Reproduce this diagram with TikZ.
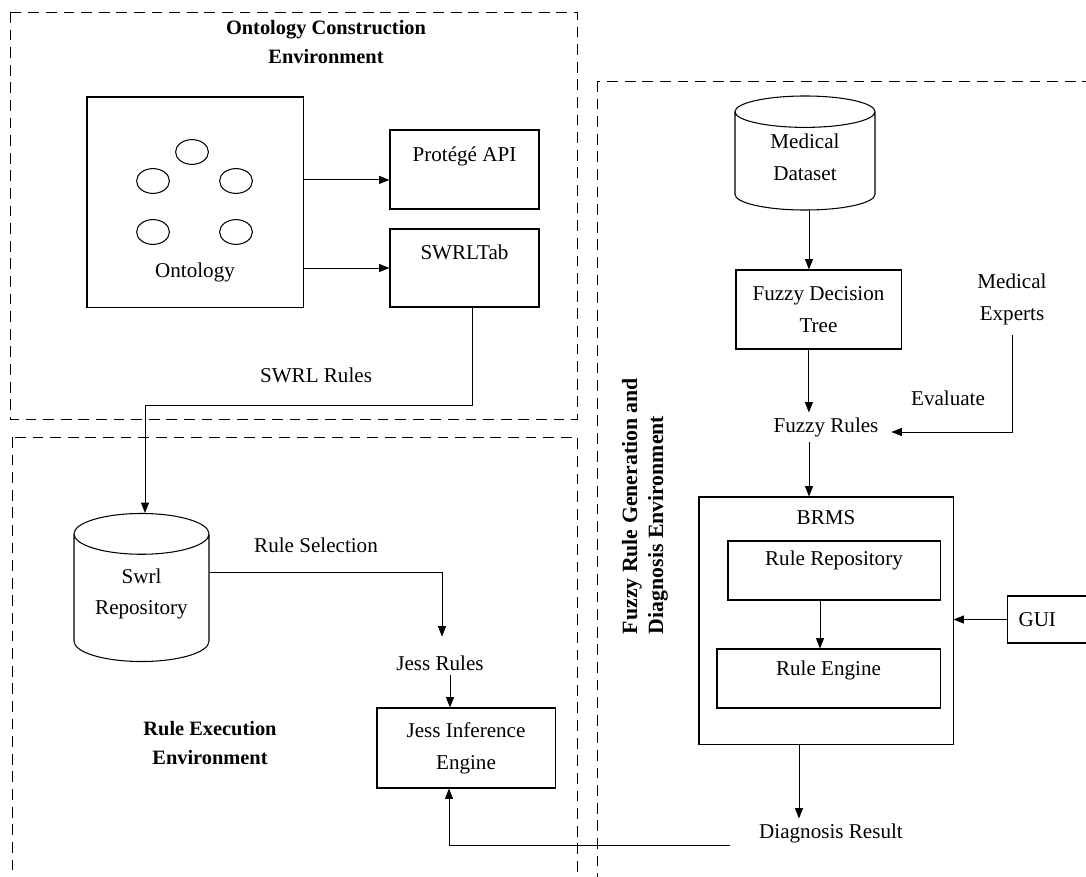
\documentclass[tikz,border=0pt]{standalone}
\usepackage{fontspec}
\setmainfont{Liberation Serif}
\usetikzlibrary{shapes,arrows,positioning,calc,arrows.meta}

\begin{document}
\begin{tikzpicture}[
    x=0.025cm, y=-0.025cm,
    font=\fontsize{15}{22.7}\selectfont,
    box/.style={rectangle, draw, line width=0.75pt, align=center},
    store/.style={cylinder, shape border rotate=90, draw, line width=0.75pt, aspect=0.4, align=center, anchor=shape center},
    concept/.style={ellipse, draw, line width=0.75pt, minimum width=0.82cm, minimum height=0.62cm},
    envbox/.style={draw, line width=0.7pt, dash pattern=on 0.27cm off 0.17cm},
    envtitle/.style={font=\fontsize{14.5}{20}\bfseries\selectfont, align=center},
    flow/.style={-{Triangle[length=0.26cm,width=0.2cm]}, line width=0.7pt}
]
    \useasboundingbox (0,0) rectangle (1086,876);
    \clip (0,0) rectangle (1086,876);

    % environments
    \draw[envbox] (10,12) rectangle (577,419);
    \draw[envbox] (12,437) rectangle (577,900);
    \draw[envbox] (597,81) rectangle (1100,900);
    \node[envtitle] (octitle) at (326,42) {Ontology Construction\\Environment};
    \node[envtitle] (retitle) at (210,743) {Rule Execution\\Environment};
    \node[envtitle, rotate=90, align=left, font=\fontsize{15.5}{18.5}\bfseries\selectfont] (frtitle) at (645,506) {Fuzzy Rule Generation and\\Diagnosis Environment};

    % ontology construction
    \node[box, minimum width=5.4cm, minimum height=5.25cm, text height=3.87cm] (onto) at (195,202) {Ontology};
    \foreach \cx/\cy [count=\i] in {192/152, 153/181, 236/181, 153/232, 236/232}
        \node[concept] (c\i) at (\cx,\cy) {};
    \node[box, minimum width=3.725cm, minimum height=1.975cm, text depth=0.78cm] (api) at (464.5,169.5) {Protégé API};
    \node[box, minimum width=3.725cm, minimum height=1.95cm, text depth=0.8cm] (tab) at (464.5,268) {SWRLTab};
    \draw[flow] ([yshift=-0.26cm]api.west -| onto.east) -- ([yshift=-0.26cm]api.west);
    \draw[flow] (onto.east |- tab.west) -- (tab.west);

    % rule execution
    \node[store, minimum width=3.375cm, minimum height=3.7cm, text depth=0.5cm] (repo) at (141.5,587.5) {Swrl\\Repository};
    \node (swrllbl) at (316,375) {SWRL Rules};
    \coordinate (bend) at (145,405);
    \draw[flow] ([xshift=0.2cm]tab.south) |- (bend) -- (bend |- repo.north);
    \node (sellbl) at (316,545) {Rule Selection};
    \node (jrules) at (440,663) {Jess Rules};
    \node[box, minimum width=4.45cm, minimum height=2cm] (jess) at (466,748) {Jess Inference\\Engine};
    \draw[flow] ([yshift=0.72cm]repo.east) -| ([xshift=0.05cm,yshift=0.35cm]jrules.north);
    \draw[flow] ([xshift=0.25cm]jrules.south) -- ([xshift=0.25cm]jrules.south |- jess.north);

    % fuzzy rule generation and diagnosis
    \node[store, minimum width=3.5cm, minimum height=2.85cm, text depth=0.35cm] (data) at (805,153) {Medical\\Dataset};
    \node[box, minimum width=4.125cm, minimum height=1.975cm] (tree) at (818.5,309.5) {Fuzzy Decision\\Tree};
    \node (fuzzy) at (826,427) {Fuzzy Rules};
    \node[align=center] (experts) at (1012,299) {Medical\\Experts};
    \node (evallbl) at (948,398) {Evaluate};
    \node[box, minimum width=6.35cm, minimum height=6.175cm, text depth=5.125cm] (brms) at (826,620.5) {BRMS};
    \node[box, minimum width=5.3cm, minimum height=1.475cm, text depth=0.625cm] (rrepo) at (834,570.5) {Rule Repository};
    \node[box, minimum width=5.575cm, minimum height=1.475cm, text depth=0.525cm] (rengine) at (828.5,678.5) {Rule Engine};
    \node[box, anchor=west, minimum height=1.175cm, text width=2.2cm, align=left, inner xsep=0.275cm] (gui) at (1007,619.5) {GUI};
    \node (result) at (831,833) {Diagnosis Result};

    \draw[flow] ([xshift=0.1cm]data.south) -- ([xshift=0.1cm]data.south |- tree.north);
    \draw[flow] ([xshift=-0.24cm]tree.south) -- ([xshift=-0.24cm]tree.south |- fuzzy.north);
    \draw[flow] ([yshift=-0.15cm]experts.south) |- ([xshift=0.2cm,yshift=-0.125cm]fuzzy.east);
    \draw[flow] ([xshift=-0.425cm]fuzzy.south) -- ([xshift=-0.425cm]fuzzy.south |- brms.north);
    \draw[flow] ([xshift=-0.35cm]rrepo.south) -- ([xshift=-0.35cm]rrepo.south |- rengine.north);
    \draw[flow] (gui.west) -- (gui.west -| brms.east);
    \draw[flow] ([xshift=-0.675cm]brms.south) -- ([xshift=-0.675cm]brms.south |- result.north);
    \draw[flow] ([xshift=-0.6cm,yshift=-0.3cm]result.west) -| ([xshift=-0.425cm]jess.south);
\end{tikzpicture}
\end{document}
